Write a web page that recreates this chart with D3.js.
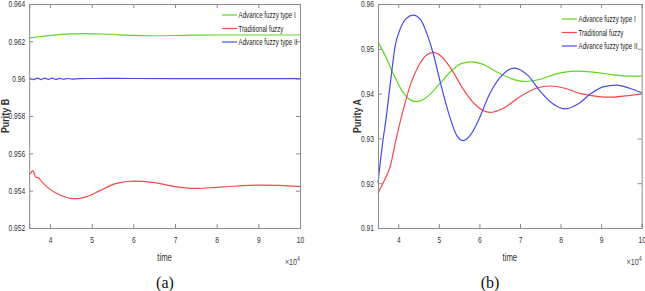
<!DOCTYPE html>
<html>
<head>
<meta charset="utf-8">
<script src="https://cdn.jsdelivr.net/npm/d3@7"></script>
<style>
  body { margin: 0; background: #fff; }
  svg text { font-family: "Liberation Sans", Arial, sans-serif; }
</style>
</head>
<body>
<svg width="645" height="291"></svg>
<script>

  // tick labels
  const xTicks = [4, 5, 6, 7, 8, 9, 10];
  const yTicksA = [0.952, 0.954, 0.956, 0.958, 0.96, 0.962, 0.964];
  const yTicksB = [0.91, 0.92, 0.93, 0.94, 0.95, 0.96];
  const seriesNames = ["Advance fuzzy type I", "Traditional fuzzy", "Advance fuzzy type II"];

  // panel (a): Purity B  (time in units of 10^4)
  const greenA_t = [3.5, 3.8, 4.2, 4.8, 5.4, 6.0, 6.5, 7.2, 8, 9, 10];
  const greenA_v = [0.96218, 0.96226, 0.96236, 0.96241, 0.96238, 0.96232, 0.96230, 0.96232, 0.96234, 0.96234, 0.96234];
  const redA_t = [3.5, 3.52, 3.584, 3.663, 3.718, 3.8, 3.88, 4.0, 4.24, 4.48, 4.64, 4.88, 5.2, 5.52, 5.68, 6.0, 6.5, 7.0, 7.5, 8.0, 8.5, 9.0, 9.5, 10];
  const redA_v = [0.95488, 0.95490, 0.95507, 0.95472, 0.95470, 0.95448, 0.95430, 0.95407, 0.95377, 0.95359, 0.95357, 0.95368, 0.95400, 0.95434, 0.95443, 0.95451, 0.95443, 0.95422, 0.95412, 0.95418, 0.95425, 0.95430, 0.95428, 0.95422];
  const blueA_t = [3.5, 3.6, 3.7, 3.78, 3.87, 3.96, 4.05, 4.14, 4.23, 4.32, 4.42, 4.52, 4.7, 5.0, 5.5, 6.0, 7.0, 8.0, 10];
  const blueA_v = [0.96002, 0.95995, 0.96003, 0.95995, 0.96003, 0.95995, 0.96003, 0.95996, 0.96002, 0.95997, 0.96001, 0.95998, 0.96000, 0.96001, 0.96002, 0.96001, 0.96000, 0.96000, 0.96000];

  // panel (b): Purity A
  const greenB_t = [3.5, 3.7, 3.9, 4.1, 4.3, 4.45, 4.7, 5.0, 5.3, 5.55, 5.81, 6.1, 6.4, 6.8, 7.15, 7.5, 7.9, 8.36, 8.8, 9.3, 9.7, 10];
  const greenB_v = [0.9516, 0.9480, 0.9440, 0.9405, 0.9386, 0.9382, 0.9392, 0.9420, 0.9450, 0.9467, 0.9471, 0.9465, 0.9450, 0.9433, 0.9427, 0.9432, 0.9444, 0.9450, 0.9448, 0.9442, 0.9439, 0.9439];
  const redB_t = [3.5, 3.65, 3.8, 3.95, 4.12, 4.3, 4.5, 4.7, 4.86, 5.05, 5.32, 5.6, 5.9, 6.26, 6.6, 7.0, 7.4, 7.74, 8.1, 8.5, 8.9, 9.22, 9.6, 10];
  const redB_v = [0.9178, 0.9205, 0.9237, 0.9300, 0.9363, 0.9420, 0.9462, 0.9486, 0.9492, 0.9484, 0.9453, 0.9410, 0.9375, 0.9358, 0.9368, 0.9393, 0.9412, 0.9417, 0.9412, 0.9400, 0.9394, 0.9392, 0.9395, 0.9399];
  const blueB_t = [3.5, 3.6, 3.71, 3.82, 3.92, 4.05, 4.2, 4.37, 4.55, 4.7, 4.86, 5.05, 5.27, 5.45, 5.6, 5.8, 6.0, 6.23, 6.5, 6.86, 7.2, 7.5, 7.8, 8.13, 8.45, 8.75, 9.05, 9.37, 9.7, 10];
  const blueB_v = [0.9200, 0.9280, 0.9352, 0.9435, 0.9505, 0.9545, 0.9568, 0.9575, 0.9565, 0.9535, 0.9490, 0.9420, 0.9348, 0.9305, 0.9295, 0.9310, 0.9345, 0.9395, 0.9435, 0.9457, 0.9440, 0.9405, 0.9378, 0.9366, 0.9378, 0.9400, 0.9415, 0.9419, 0.9412, 0.9402];

  const colors = ["#5fd620", "#f74848", "#4848f2"];
  const axisColor = "#8c8c8c";
  const squeeze = 0.74;   // reference uses a narrow sans

  const svg = d3.select("svg");

  function zip(t, v) { return t.map((d, i) => ({t: d, v: v[i]})); }

  // squash text horizontally around its own x anchor
  function condense(sel, k) {
    sel.each(function() {
      const x = +(this.getAttribute("x") || 0);
      this.setAttribute("transform", "translate(" + (x * (1 - k)) + ",0) scale(" + k + ",1)");
    });
  }

  function panel(p) {
    const g = svg.append("g");
    const x = d3.scaleLinear().domain([3.5, 10]).range([p.left, p.right]);
    const y = d3.scaleLinear().domain(p.yDomain).range([p.bottom, p.top]);

    const line = d3.line().x(d => x(d.t)).y(d => y(d.v)).curve(d3.curveMonotoneX);

    p.series.forEach((s, i) => {
      g.append("path")
        .datum(zip(s[0], s[1]))
        .attr("fill", "none")
        .attr("stroke", colors[i])
        .attr("stroke-width", 1.2)
        .attr("d", line);
    });

    // box axes, MATLAB style: ticks pointing in on every side
    g.append("g").attr("transform", "translate(0," + p.bottom + ")")
      .call(d3.axisBottom(x).tickValues(xTicks).tickSize(-4).tickPadding(9).tickFormat(d3.format("d")));
    g.append("g").attr("transform", "translate(0," + p.top + ")")
      .call(d3.axisTop(x).tickValues(xTicks).tickSize(-4).tickFormat(""));
    g.append("g").attr("transform", "translate(" + p.left + ",0)")
      .call(d3.axisLeft(y).tickValues(p.yTicks).tickSize(-4).tickPadding(4).tickFormat(d => String(+d.toFixed(3))));
    g.append("g").attr("transform", "translate(" + p.right + ",0)")
      .call(d3.axisRight(y).tickValues(p.yTicks).tickSize(-4).tickFormat(""));

    g.selectAll(".domain").attr("stroke", axisColor);
    g.selectAll(".tick line").attr("stroke", axisColor);
    g.selectAll(".tick text").attr("fill", "#333").style("font-size", "9px")
      .call(condense, squeeze);

    // legend, no box
    seriesNames.forEach((name, i) => {
      const ly = p.legY + i * 13.5;
      g.append("line")
        .attr("x1", p.legX).attr("x2", p.legX + 15)
        .attr("y1", ly).attr("y2", ly)
        .attr("stroke", colors[i]).attr("stroke-width", 1.2);
      g.append("text")
        .attr("x", p.legX + 16.5).attr("y", ly + 3.3)
        .attr("fill", "#222")
        .style("font-size", "9px")
        .text(name)
        .call(condense, 0.69);
    });

    g.append("text")
      .attr("x", (p.left + p.right) / 2).attr("y", 261)
      .attr("text-anchor", "middle").attr("fill", "#333")
      .style("font-size", "10.5px")
      .text("time")
      .call(condense, squeeze);

    const ex = g.append("text")
      .attr("x", p.right).attr("y", 265)
      .attr("text-anchor", "end")
      .attr("fill", "#444").style("font-size", "9px");
    ex.append("tspan").text("\u00d710");
    ex.append("tspan").attr("dy", -4).style("font-size", "6.5px").text("4");
    ex.call(condense, 0.8);

    g.append("text")
      .attr("transform", "translate(" + p.yLabX + "," + ((p.top + p.bottom) / 2) + ") rotate(-90) scale(0.85,1)")
      .attr("text-anchor", "middle").attr("fill", "#333")
      .style("font-size", "10.5px").style("font-weight", "bold")
      .text(p.yLabel);

    g.append("text")
      .attr("x", p.capX).attr("y", 288)
      .attr("text-anchor", "middle").attr("fill", "#111")
      .style("font-family", "'Liberation Serif', 'Times New Roman', serif")
      .style("font-size", "16px")
      .text(p.caption);
  }

  panel({
    left: 29.2, right: 300, top: 4, bottom: 228,
    yDomain: [0.952, 0.964], yTicks: yTicksA,
    series: [[greenA_t, greenA_v], [redA_t, redA_v], [blueA_t, blueA_v]],
    legX: 222, legY: 15, yLabel: "Purity B", yLabX: 9, caption: "(a)", capX: 165
  });

  panel({
    left: 378, right: 641.7, top: 4, bottom: 228,
    yDomain: [0.91, 0.96], yTicks: yTicksB,
    series: [[greenB_t, greenB_v], [redB_t, redB_v], [blueB_t, blueB_v]],
    legX: 562, legY: 19, yLabel: "Purity A", yLabX: 361, caption: "(b)", capX: 490
  });

</script>
</body>
</html>
